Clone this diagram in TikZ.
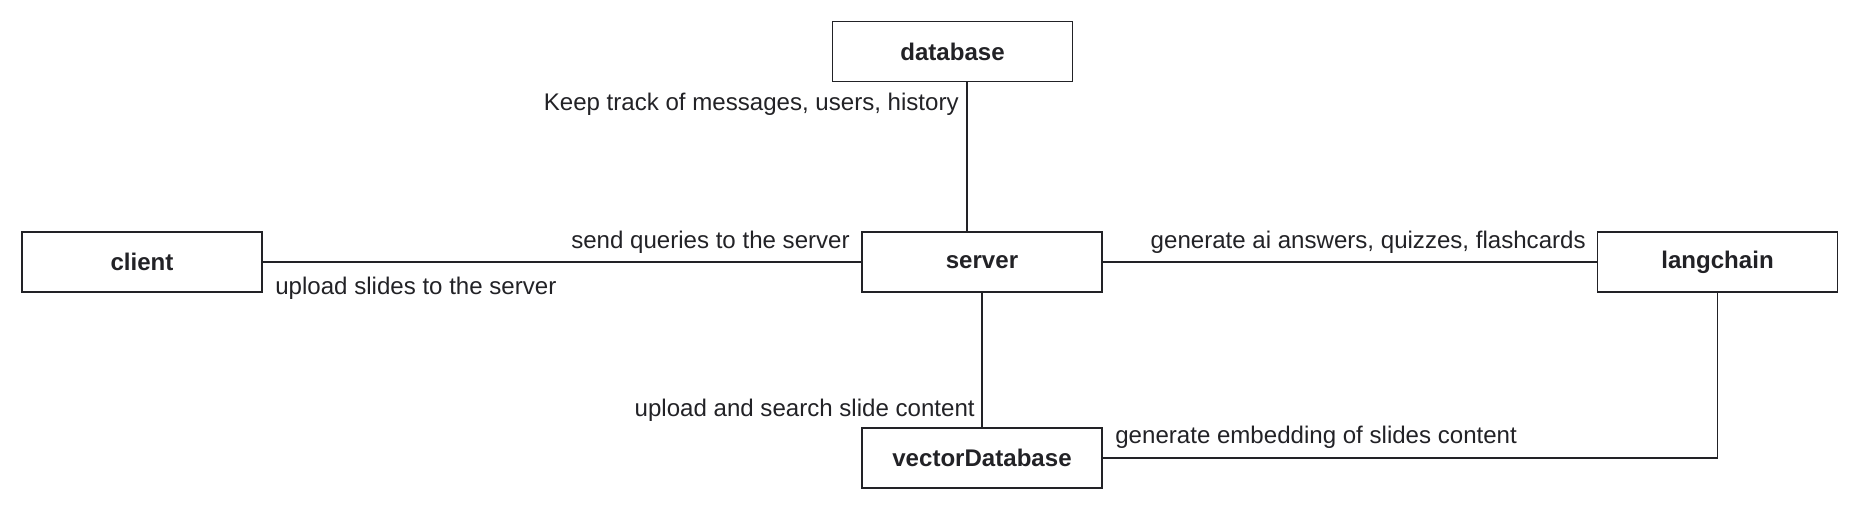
\documentclass[tikz,border=0pt]{standalone}
\usepackage{fontspec}
\setmainfont{Liberation Sans}
\definecolor{ink}{RGB}{34,34,38}

\begin{document}
\begin{tikzpicture}[
box/.style = {draw=ink, line width=0.6pt, minimum width=4.8cm, minimum height=1.2cm,
inner sep=0pt, font=\fontsize{13.7}{16}\selectfont\bfseries, text=ink},
lbl/.style = {inner sep=0pt, font=\fontsize{13.7}{16}\selectfont, text=ink},
link/.style = {draw=ink, line width=0.6pt}
                        ]
%spacing
\useasboundingbox (0,0) rectangle (37.2,10.22);
%

% boxes
\node[box] (database) at (19.05,9.19) {database};
\node[box] (client) at (2.84,4.98) {client};
\node[box] (server) at (19.64,4.98) {server};
\node[box] (langchain) at (34.35,4.98) {langchain};
\node[box] (vectorDatabase) at (19.64,1.06) {vectorDatabase};

% links
\coordinate (dbline) at (19.34,0);
\draw[link] (database.south -| dbline) -- (server.north -| dbline);
\draw[link] (client.east) -- (server.west);
\draw[link] (server.east) -- (langchain.west);
\draw[link] (server.south) -- (vectorDatabase.north);
\draw[link] (langchain.south) |- (vectorDatabase.east);

% labels
\node[lbl, anchor=east] (track) at (19.18,8.13) {Keep track of messages, users, history};
\node[lbl, anchor=east] (queries) at (17.0,5.37) {send queries to the server};
\node[lbl, anchor=west] (slides) at (5.5,4.45) {upload slides to the server};
\node[lbl, anchor=east] (answers) at (31.72,5.37) {generate ai answers, quizzes, flashcards};
\node[lbl, anchor=east] (search) at (19.5,2.01) {upload and search slide content};
\node[lbl, anchor=west] (embedding) at (22.3,1.47) {generate embedding of slides content};

\end{tikzpicture}
\end{document}
